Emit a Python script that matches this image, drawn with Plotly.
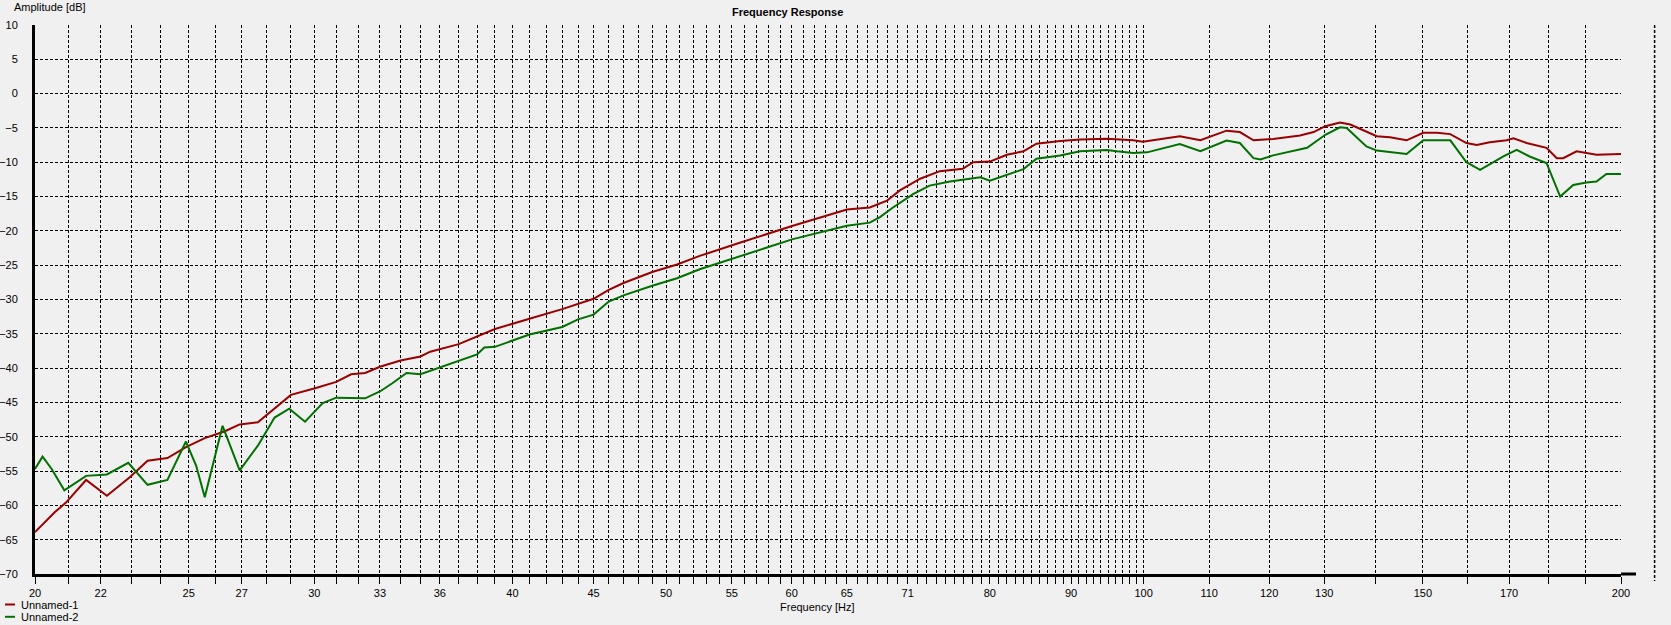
import math
import plotly.graph_objects as go

# ---------------- data ----------------
freq_1 = [20.0, 20.34, 20.58, 20.92, 21.54, 22.2, 22.95, 23.55, 24.24, 24.9, 25.59, 26.35, 26.92,
          27.64, 28.32, 29.0, 30.07, 30.97, 31.65, 32.3, 33.0, 34.0, 35.0, 35.5, 37.0, 38.2, 39.0,
          41.0, 43.0, 45.0, 46.0, 47.0, 49.0, 50.8, 52.5, 55.7, 60.1, 65.0, 67.2, 68.9, 70.2, 72.3,
          74.4, 76.9, 78.1, 80.0, 82.0, 84.0, 85.6, 88.6, 91.2, 94.8, 98.5, 99.9, 101.9, 105.4,
          108.6, 112.8, 115.0, 117.3, 120.7, 125.5, 128.0, 130.2, 133.0, 135.0, 140.3, 143.0,
          146.5, 150.1, 153.1, 156.1, 159.8, 162.2, 165.3, 169.4, 171.1, 174.4, 179.5, 182.2,
          183.9, 187.5, 193.0, 196.8, 200.0]
amp_1 = [-63.9, -62.2, -61.0, -59.6, -56.3, -58.6, -55.9, -53.5, -53.1, -51.5, -50.2, -49.2, -48.2,
         -47.9, -45.9, -43.9, -42.9, -42.0, -40.9, -40.7, -39.8, -38.9, -38.3, -37.6, -36.5, -35.1,
         -34.3, -32.8, -31.4, -29.9, -28.6, -27.6, -26.0, -24.9, -23.65, -21.7, -19.26, -16.9,
         -16.6, -15.6, -14.1, -12.4, -11.3, -10.96, -10.0, -9.9, -8.9, -8.4, -7.3, -6.9, -6.7,
         -6.56, -6.8, -7.0, -6.7, -6.2, -6.8, -5.4, -5.6, -6.8, -6.6, -6.1, -5.6, -4.75, -4.2,
         -4.5, -6.2, -6.37, -6.8, -5.7, -5.7, -5.9, -7.2, -7.5, -7.1, -6.8, -6.5, -7.2, -7.9,
         -9.4, -9.4, -8.4, -8.9, -8.8, -8.8]

freq_2 = [20.0, 20.22, 20.49, 20.87, 21.54, 22.2, 22.9, 23.55, 24.24, 24.9, 25.27, 25.59, 26.26,
          26.92, 27.64, 28.32, 28.93, 29.6, 30.37, 30.97, 32.3, 33.0, 33.6, 34.3, 35.0, 36.0, 37.0,
          38.0, 38.4, 39.0, 41.0, 43.0, 44.0, 45.0, 46.0, 47.0, 49.0, 50.8, 52.5, 55.7, 60.1, 65.0,
          67.2, 68.2, 69.5, 71.6, 73.3, 75.5, 78.1, 78.9, 80.0, 82.0, 84.0, 85.6, 88.6, 91.2, 94.8,
          96.2, 98.5, 100.5, 105.4, 108.6, 112.8, 115.0, 117.3, 118.5, 120.7, 126.8, 130.2, 133.0,
          134.3, 138.2, 140.3, 146.5, 150.1, 156.1, 159.8, 163.0, 168.6, 171.9, 175.3, 179.5,
          183.1, 186.6, 190.2, 193.0, 195.8, 200.0]
amp_2 = [-54.7, -52.9, -54.7, -57.8, -55.7, -55.5, -53.8, -57.0, -56.3, -50.7, -54.2, -58.8, -48.4,
         -54.9, -51.3, -47.2, -45.9, -47.8, -45.1, -44.3, -44.4, -43.4, -42.2, -40.7, -40.9, -39.9,
         -39.0, -38.0, -37.0, -36.9, -35.1, -34.0, -32.9, -32.2, -30.3, -29.4, -28.0, -26.9, -25.6,
         -23.65, -21.2, -19.26, -18.8, -18.0, -16.6, -14.6, -13.4, -12.8, -12.3, -12.2, -12.7,
         -11.8, -11.0, -9.5, -9.0, -8.4, -8.2, -8.4, -8.66, -8.56, -7.34, -8.4, -6.85, -7.2, -9.4,
         -9.6, -9.0, -7.9, -6.0, -4.9, -5.0, -7.7, -8.3, -8.8, -6.8, -6.8, -10.0, -11.1, -9.15,
         -8.2, -9.2, -10.1, -15.0, -13.3, -12.95, -12.8, -11.7, -11.7]

series_names = ["Unnamed-1", "Unnamed-2"]
series_colors = ["#990000", "#007000"]

grid_freqs = list(range(20, 101)) + list(range(110, 201, 10))
labeled_freqs = [20, 22, 25, 27, 30, 33, 36, 40, 45, 50, 55, 60, 65, 71, 80, 90, 100,
                 110, 120, 130, 150, 170, 200]
extra_grid_freq = 210
y_min, y_max, y_step = -70, 10, 5
x_min, x_max = 20, 200

# ---------------- layout helpers ----------------
W, H = 1671, 625
ML, MR, MT, MB = 35, 50, 25, 51
PW, PH = W - ML - MR, H - MT - MB


def px(x):
    return (x - ML) / PW


def py(y):
    return (H - MB - y) / PH


FONT = "Liberation Sans, Arial, sans-serif"
BG = "#F0F0F0"
DASH = "3px,2px"

fig = go.Figure()
for f, a, name, col in [(freq_1, amp_1, series_names[0], series_colors[0]),
                        (freq_2, amp_2, series_names[1], series_colors[1])]:
    fig.add_trace(go.Scatter(x=f, y=a, mode="lines", name=name,
                             line=dict(color=col, width=2), showlegend=False,
                             hoverinfo="x+y+name"))

ticktext = [str(v) if v in labeled_freqs else "" for v in grid_freqs]

fig.update_layout(
    width=W, height=H,
    margin=dict(l=ML, r=MR, t=MT, b=MB, pad=0, autoexpand=False),
    paper_bgcolor=BG, plot_bgcolor=BG,
    font=dict(family=FONT, size=11, color="black"),
    xaxis=dict(type="log", range=[math.log10(x_min), math.log10(x_max)],
               tickmode="array", tickvals=grid_freqs, ticktext=ticktext,
               showgrid=True, gridcolor="black", gridwidth=1, griddash=DASH,
               ticks="outside", ticklen=7, tickwidth=1, tickcolor="black",
               showline=True, linecolor="black", linewidth=3, automargin=False,
               zeroline=False, tickfont=dict(size=11, family=FONT, color="black")),
    yaxis=dict(range=[y_min, y_max], tickmode="linear", tick0=y_min, dtick=y_step,
               showgrid=True, gridcolor="black", gridwidth=1, griddash=DASH,
               ticks="", showline=True, linecolor="black", linewidth=3,
               zeroline=False, ticklabelstandoff=12, automargin=False,
               tickfont=dict(size=11, family=FONT, color="black")),
)

# extra grid line beyond the axis end and axis overhang
xg = math.log10(extra_grid_freq / x_min) / math.log10(x_max / x_min)
fig.add_shape(type="line", xref="paper", yref="paper", x0=xg, x1=xg,
              y0=1.0, y1=py(581), line=dict(color="black", width=1.5, dash=DASH))
fig.add_shape(type="line", xref="paper", yref="paper", x0=1.0, x1=px(1636), y0=0, y1=0,
              line=dict(color="black", width=3))

# texts
fig.add_annotation(text="<b>Frequency Response</b>", xref="paper", yref="paper",
                   x=px(787), y=py(12), showarrow=False, xanchor="center", yanchor="middle",
                   font=dict(size=11, family=FONT, color="black"))
fig.add_annotation(text="Amplitude [dB]", xref="paper", yref="paper",
                   x=px(12), y=py(7), showarrow=False, xanchor="left", yanchor="middle",
                   font=dict(size=11, family=FONT, color="black"))
fig.add_annotation(text="Frequency [Hz]", xref="paper", yref="paper",
                   x=px(817), y=py(607), showarrow=False, xanchor="center", yanchor="middle",
                   font=dict(size=11, family=FONT, color="black"))

# custom compact legend
for i, (name, col) in enumerate(zip(series_names, series_colors)):
    yy = 604.5 + i * 12.3
    fig.add_shape(type="line", xref="paper", yref="paper", x0=px(5), x1=px(15),
                  y0=py(yy), y1=py(yy), line=dict(color=col, width=2))
    fig.add_annotation(text=name, xref="paper", yref="paper", x=px(19), y=py(yy),
                       showarrow=False, xanchor="left", yanchor="middle",
                       font=dict(size=11, family=FONT, color="black"))

fig.write_html("out.html", config={"displayModeBar": False},
               post_script="document.body.style.margin='0';"
                           "document.body.style.background='#F0F0F0';")
